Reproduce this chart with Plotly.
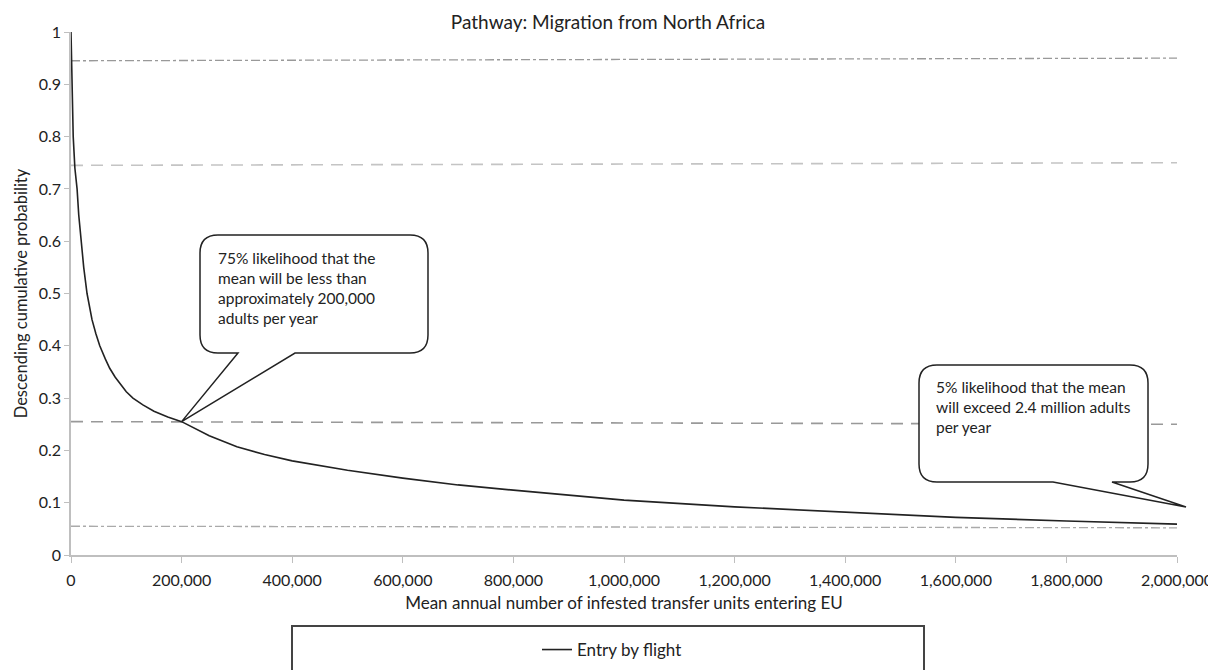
import plotly.graph_objects as go

# descending cumulative probability curve
mean_units = [0, 1000, 2000, 4000, 7000, 11000, 14000, 18000, 23000, 29000, 38000, 45000,
              52000, 62000, 70000, 80000, 90000, 100000, 112000, 130000, 150000, 175000,
              200000, 250000, 300000, 350000, 400000, 500000, 600000, 700000, 800000,
              900000, 1000000, 1200000, 1400000, 1600000, 1800000, 2000000]
desc_prob = [1.0, 0.93, 0.88, 0.8, 0.74, 0.7, 0.65, 0.6, 0.55, 0.5, 0.45, 0.423,
             0.4, 0.375, 0.357, 0.34, 0.325, 0.312, 0.3, 0.287, 0.275, 0.264,
             0.255, 0.228, 0.207, 0.192, 0.18, 0.162, 0.147, 0.134, 0.124,
             0.114, 0.105, 0.092, 0.082, 0.072, 0.065, 0.059]

# reference levels (left end, right end)
ref_x = [0, 2000000]
ref_95 = [0.945, 0.95]
ref_75 = [0.745, 0.75]
ref_25 = [0.255, 0.25]
ref_05 = [0.055, 0.052]

x_max = 2000000
y_ticks = [0, 0.1, 0.2, 0.3, 0.4, 0.5, 0.6, 0.7, 0.8, 0.9, 1]
x_ticks = list(range(0, 2000001, 200000))

FONT = "Lato, 'Open Sans', sans-serif"

# page has an 8px body margin, so the figure is drawn 8px in from the window edge
OFF = 8
W, H = 1216 - OFF, 670 - OFF
# plot area in window pixels (for callouts / legend box)
L, R, T, B = 71, 1177, 32, 555


def px(x, y):
    return (x - L) / (R - L), (B - y) / (B - T)


def callout(x0, y0, x1, y1, r, ta, tb, tip):
    pts = [("M", (x0 + r, y0)), ("L", (x1 - r, y0)), ("Q", (x1, y0), (x1, y0 + r)),
           ("L", (x1, y1 - r)), ("Q", (x1, y1), (x1 - r, y1)), ("L", (ta, y1)),
           ("L", tip), ("L", (tb, y1)), ("L", (x0 + r, y1)), ("Q", (x0, y1), (x0, y1 - r)),
           ("L", (x0, y0 + r)), ("Q", (x0, y0), (x0 + r, y0))]
    out = []
    for p in pts:
        coords = " ".join("%.5f,%.5f" % px(*c) for c in p[1:])
        out.append(p[0] + coords)
    return " ".join(out) + " Z"


fig = go.Figure()

fig.add_trace(go.Scatter(x=ref_x, y=ref_95, mode="lines", showlegend=False,
                         line=dict(color="#999999", width=1.3, dash="dashdot")))
fig.add_trace(go.Scatter(x=ref_x, y=ref_75, mode="lines", showlegend=False,
                         line=dict(color="#c4c4c4", width=1.6, dash="12px,8px")))
fig.add_trace(go.Scatter(x=ref_x, y=ref_25, mode="lines", showlegend=False,
                         line=dict(color="#999999", width=1.6, dash="12px,8px")))
fig.add_trace(go.Scatter(x=ref_x, y=ref_05, mode="lines", showlegend=False,
                         line=dict(color="#aaaaaa", width=1.3, dash="dashdot")))
fig.add_trace(go.Scatter(x=mean_units, y=desc_prob, mode="lines", name="Entry by flight",
                         line=dict(color="#222222", width=1.6)))

# callout 1 tip sits on the curve at 200,000 / 0.255
i200 = mean_units.index(200000)
tip1 = (L + mean_units[i200] / x_max * (R - L), B - desc_prob[i200] * (B - T))
tip2 = (1186, 507)

shapes = [
    dict(type="path", xref="paper", yref="paper", layer="above",
         path=callout(200, 235, 428, 353, 18, 295, 238, tip1),
         line=dict(color="#222222", width=1.5), fillcolor="white"),
    dict(type="path", xref="paper", yref="paper", layer="above",
         path=callout(919, 365, 1148, 482, 18, 1112, 1053, tip2),
         line=dict(color="#222222", width=1.5), fillcolor="white"),
]
bx0, by0 = px(292, 626)
bx1, by1 = px(924, 690)
shapes.append(dict(type="rect", xref="paper", yref="paper", x0=bx0, y0=by0, x1=bx1, y1=by1,
                   line=dict(color="#444444", width=2), fillcolor="rgba(0,0,0,0)"))

a1x, a1y = px(216, 247)
a2x, a2y = px(934, 376)
annotations = [
    dict(xref="paper", yref="paper", x=a1x, y=a1y, xanchor="left", yanchor="top",
         align="left", showarrow=False,
         text="75% likelihood that the<br>mean will be less than<br>approximately 200,000<br>adults per year",
         font=dict(size=15.5, color="#222222", family=FONT)),
    dict(xref="paper", yref="paper", x=a2x, y=a2y, xanchor="left", yanchor="top",
         align="left", showarrow=False,
         text="5% likelihood that the mean<br>will exceed 2.4 million adults<br>per year",
         font=dict(size=15.5, color="#222222", family=FONT)),
]

lx, ly = px(612, 650)

fig.update_layout(
    width=W, height=H,
    margin=dict(l=L - OFF, r=W - (R - OFF), t=T - OFF, b=H - (B - OFF), autoexpand=False),
    paper_bgcolor="white", plot_bgcolor="white",
    font=dict(family=FONT, size=16, color="#222222"),
    title=dict(text="Pathway: Migration from North Africa", x=(608 - OFF) / W, xanchor="center",
               xref="container", y=1 - (22 - OFF) / H, yref="container", yanchor="middle",
               font=dict(size=19, color="#222222", family=FONT)),
    xaxis=dict(range=[0, x_max], tickvals=x_ticks, tickformat=",d", showgrid=False,
               zeroline=False, showline=True, linecolor="#bfbfbf", linewidth=1.5,
               ticks="outside", ticklen=6, tickcolor="#bfbfbf", ticklabelstandoff=4,
               automargin=False,
               title=dict(text="Mean annual number of infested transfer units entering EU",
                          standoff=9, font=dict(size=17))),
    yaxis=dict(range=[0, 1], tickvals=y_ticks, showgrid=False, zeroline=False,
               showline=True, linecolor="#bfbfbf", linewidth=1.5, ticks="outside",
               ticklen=5, tickcolor="#bfbfbf", automargin=False,
               title=dict(text="Descending cumulative probability", standoff=7,
                          font=dict(size=16.5))),
    showlegend=True,
    legend=dict(x=lx, y=ly, xanchor="center", yanchor="middle", orientation="h",
                bgcolor="rgba(0,0,0,0)", font=dict(size=17)),
    shapes=shapes,
    annotations=annotations,
)

fig.write_html("out.html")
